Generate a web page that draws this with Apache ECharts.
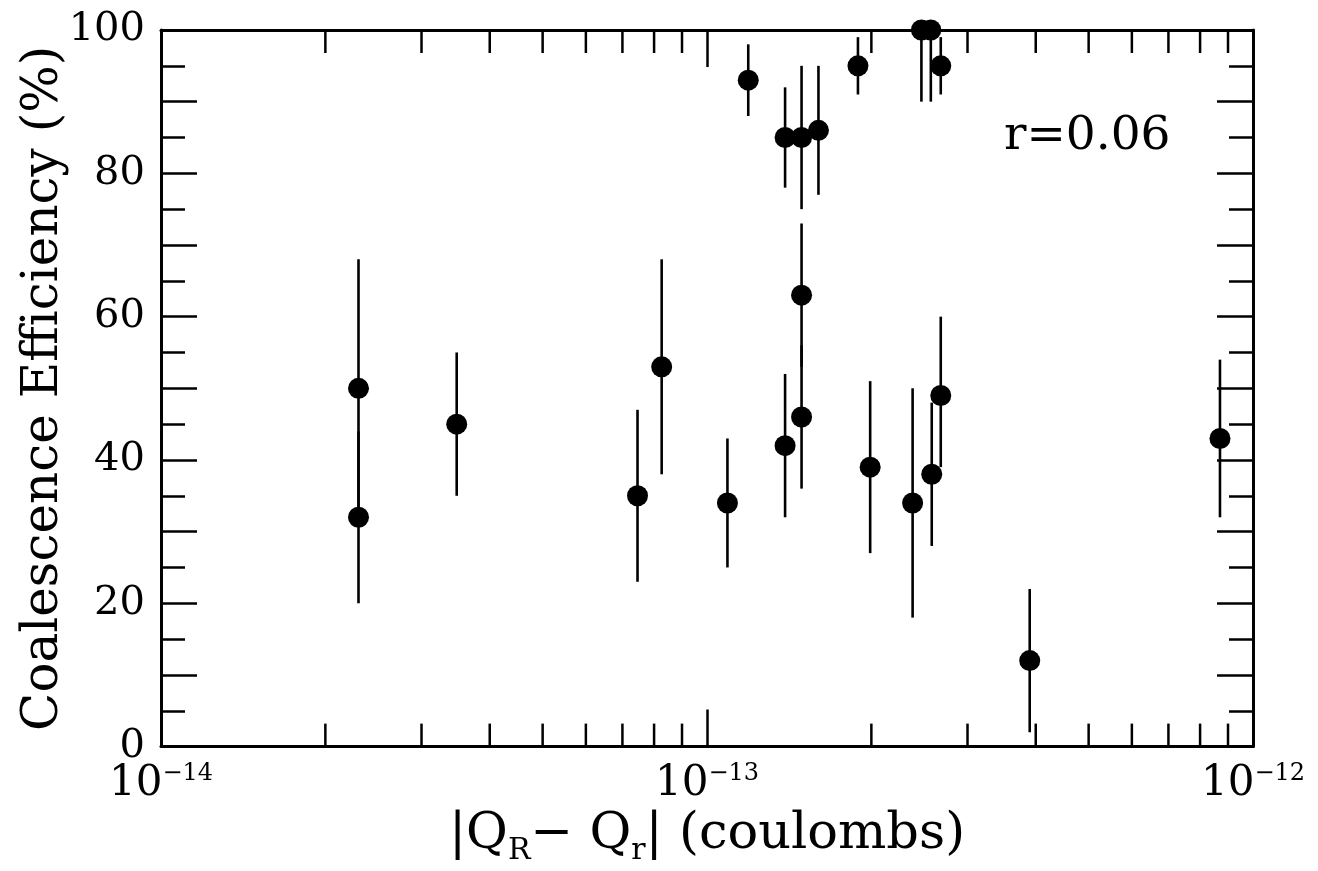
<!DOCTYPE html>
<html>
<head>
<meta charset="utf-8">
<script src="https://cdn.jsdelivr.net/npm/echarts@6/dist/echarts.min.js"></script>
<style>
  html, body { margin: 0; padding: 0; background: #fff; }
  #chart { width: 1318px; height: 871px; }
</style>
</head>
<body>
<div id="chart"></div>
<script>
  // |Q_R - Q_r| in coulombs, one entry per drop pair
  var chargeDiff = [2.30e-14, 2.30e-14, 3.48e-14, 7.46e-14, 8.26e-14, 1.09e-13, 1.19e-13, 1.39e-13, 1.39e-13, 1.49e-13, 1.49e-13, 1.49e-13, 1.60e-13, 1.89e-13, 1.99e-13, 2.38e-13, 2.47e-13, 2.57e-13, 2.58e-13, 2.68e-13, 2.68e-13, 3.90e-13, 8.70e-13];
  // coalescence efficiency (%) and its error bar ends
  var efficiency = [50, 32, 45, 35, 53, 34, 93, 85, 42, 85, 63, 46, 86, 95, 39, 34, 100, 100, 38, 95, 49, 12, 43];
  var errLow = [32, 20, 35, 23, 38, 25, 88, 78, 32, 75, 53, 36, 77, 91, 27, 18, 90, 90, 28, 91, 39, 2, 32];
  var errHigh = [68, 44, 55, 47, 68, 43, 98, 92, 52, 95, 73, 56, 95, 99, 51, 50, 100, 100, 48, 99, 60, 22, 54];
  // log minor tick positions on the x axis
  var xMinorTicks = [2e-14, 3e-14, 4e-14, 5e-14, 6e-14, 7e-14, 8e-14, 9e-14, 2e-13, 3e-13, 4e-13, 5e-13, 6e-13, 7e-13, 8e-13, 9e-13];
  var yMin = 0, yMax = 100;

  var font = 'DejaVu Serif';
  var myChart = echarts.init(document.getElementById('chart'));

  var points = chargeDiff.map(function (x, i) { return [x, efficiency[i]]; });
  var bars = chargeDiff.map(function (x, i) { return [x, errLow[i], errHigh[i]]; });

  function yAxisCfg(pos) {
    return {
      type: 'value',
      position: pos,
      min: yMin,
      max: yMax,
      interval: 10,
      splitLine: { show: false },
      axisLine: { show: true, onZero: false, lineStyle: { color: '#000', width: 3 } },
      axisTick: { show: true, inside: true, length: 36, lineStyle: { color: '#000', width: 2.5 } },
      minorTick: { show: true, splitNumber: 2, length: 24, lineStyle: { color: '#000', width: 2.5 } },
      axisLabel: {
        show: pos === 'left',
        margin: 16,
        color: '#000',
        fontFamily: font,
        fontSize: 40,
        formatter: function (v) { return v % 20 === 0 ? v : ''; }
      }
    };
  }

  function xAxisCfg(pos) {
    return {
      type: 'log',
      logBase: 10,
      position: pos,
      min: 1e-14,
      max: 1e-12,
      splitLine: { show: false },
      axisLine: { show: true, onZero: false, lineStyle: { color: '#000', width: 3 } },
      axisTick: { show: true, inside: true, length: 37, lineStyle: { color: '#000', width: 2.5 } },
      axisLabel: {
        show: pos === 'bottom',
        margin: 15,
        color: '#000',
        formatter: function (v) {
          var e = Math.round(Math.log10(v));
          return '{b|10}{s|\u2212' + Math.abs(e) + '}';
        },
        rich: {
          b: { fontFamily: font, fontSize: 42, lineHeight: 44, color: '#000' },
          s: { fontFamily: font, fontSize: 24, lineHeight: 24, verticalAlign: 'top', color: '#000' }
        }
      }
    };
  }

  var xBottom = xAxisCfg('bottom');
  xBottom.name = '{t||Q}{sub|R}{t|\u2212 Q}{sub|r}{t|| (coulombs)}';
  xBottom.nameLocation = 'middle';
  xBottom.nameGap = 50;
  xBottom.nameTextStyle = {
    rich: {
      t: { fontFamily: font, fontSize: 51, lineHeight: 62, color: '#000' },
      sub: { fontFamily: font, fontSize: 30, lineHeight: 32, verticalAlign: 'bottom', color: '#000' }
    }
  };

  var yLeft = yAxisCfg('left');
  yLeft.name = 'Coalescence Efficiency (%)';
  yLeft.nameLocation = 'middle';
  yLeft.nameGap = 92;
  yLeft.nameMoveOverlap = false;
  yLeft.nameTextStyle = { fontFamily: font, fontSize: 50, color: '#000' };

  var option = {
    animation: false,
    backgroundColor: '#fff',
    grid: { left: 161, right: 65, top: 30, bottom: 124 },
    xAxis: [xBottom, xAxisCfg('top')],
    yAxis: [yLeft, yAxisCfg('right')],
    graphic: [{
      type: 'text',
      x: 1004,
      y: 137,
      style: { text: 'r=0.06', fontFamily: font, fontSize: 47, fill: '#000', verticalAlign: 'middle' }
    }],
    series: [
      {
        // log minor ticks on bottom and top frame
        type: 'custom',
        xAxisIndex: 0,
        yAxisIndex: 0,
        silent: true,
        clip: false,
        data: xMinorTicks.map(function (v) { return [v]; }),
        renderItem: function (params, api) {
          var v = api.value(0);
          var b = api.coord([v, yMin]);
          var t = api.coord([v, yMax]);
          var st = { stroke: '#000', lineWidth: 2.5 };
          return {
            type: 'group',
            children: [
              { type: 'line', shape: { x1: b[0], y1: b[1], x2: b[0], y2: b[1] - 23 }, style: st },
              { type: 'line', shape: { x1: t[0], y1: t[1], x2: t[0], y2: t[1] + 23 }, style: st }
            ]
          };
        }
      },
      {
        // error bars
        type: 'custom',
        xAxisIndex: 0,
        yAxisIndex: 0,
        silent: true,
        clip: false,
        data: bars,
        encode: { x: 0, y: [1, 2] },
        renderItem: function (params, api) {
          var lo = api.coord([api.value(0), api.value(1)]);
          var hi = api.coord([api.value(0), api.value(2)]);
          return {
            type: 'line',
            shape: { x1: lo[0], y1: lo[1], x2: hi[0], y2: hi[1] },
            style: { stroke: '#000', lineWidth: 2.6 }
          };
        }
      },
      {
        type: 'scatter',
        xAxisIndex: 0,
        yAxisIndex: 0,
        clip: false,
        symbol: 'circle',
        symbolSize: 21,
        itemStyle: { color: '#000', opacity: 1 },
        data: points
      }
    ]
  };

  myChart.setOption(option);
</script>
</body>
</html>
